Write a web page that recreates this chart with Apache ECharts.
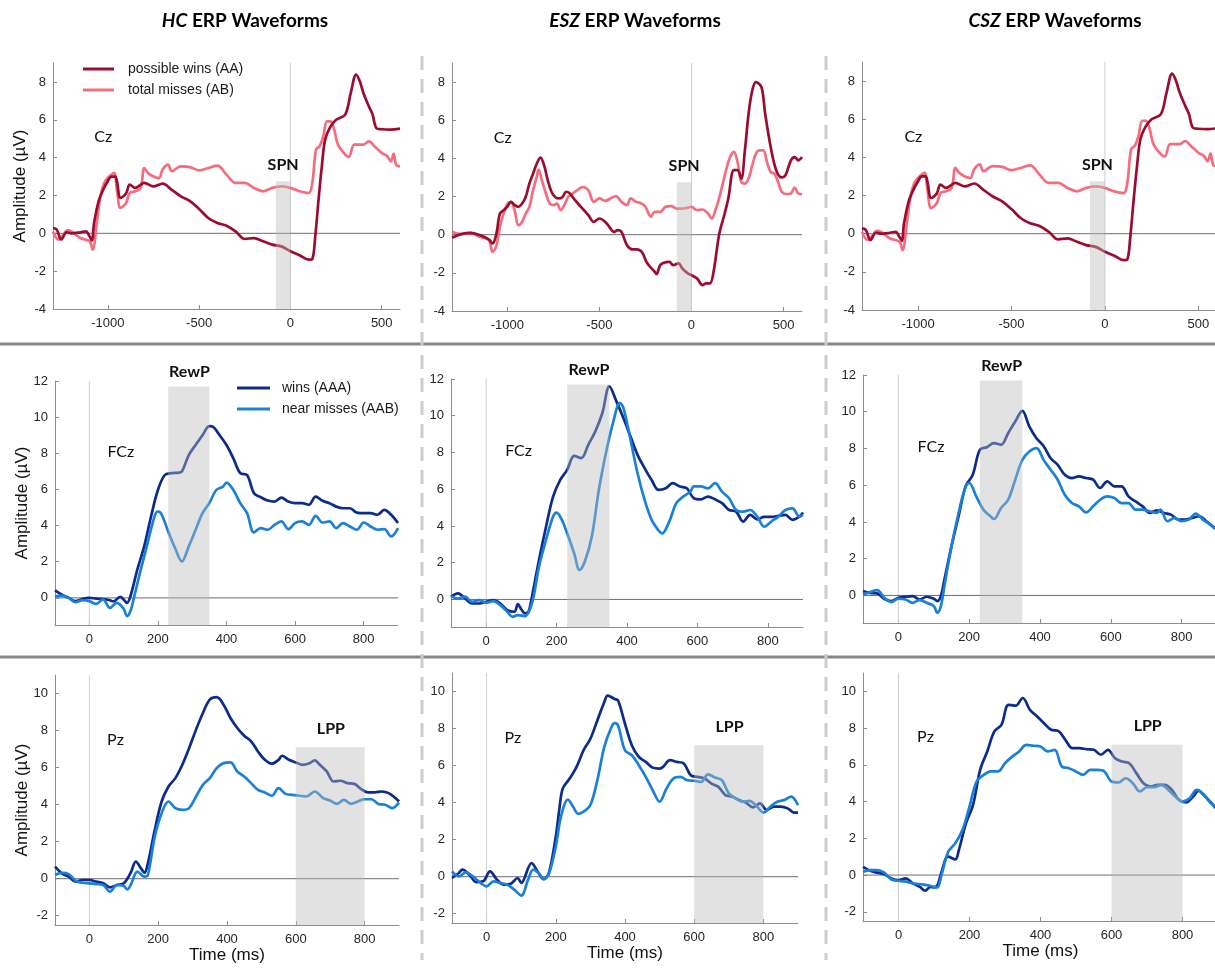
<!DOCTYPE html>
<html><head><meta charset="utf-8">
<script src="https://cdn.jsdelivr.net/npm/echarts@6/dist/echarts.min.js"></script>
<style>html,body{margin:0;padding:0;background:#fff}#c{width:1215px;height:968px}</style>
</head><body><div id="c"></div>
<script>
// ---------------- DATA ----------------
const colTitles = ['HC', 'ESZ', 'CSZ'];
const czNames = ['possible wins (AA)', 'total misses (AB)'];
const fbNames = ['wins (AAA)', 'near misses (AAB)'];
const czTicksX = [-1000, -500, 0, 500];
const czTicksY = [-4, -2, 0, 2, 4, 6, 8];
const lateTicksX = [0, 200, 400, 600, 800];
const fczTicksY = [0, 2, 4, 6, 8, 10, 12];
const pzTicksY = [-2, 0, 2, 4, 6, 8, 10];
const spnWindow = [-80, 0, -4, 2.75];
const rewpWindow = [230, 350, -1.5, 11.7];
const lppWindow = [600, 800, -2.5, 7.1];

const hcCzWins = [[-1300,0.28],[-1280,0.2],[-1255,-0.33],[-1225,0.05],[-1200,0],[-1150,0.05],[-1120,0.1],[-1100,-0.16],[-1087,-0.37],[-1075,0.55],[-1050,1.7],[-1025,2.3],[-1000,2.75],[-980,3.0],[-960,3.0],[-950,2.75],[-930,1.87],[-900,2.1],[-880,2.57],[-850,2.4],[-800,2.66],[-750,2.48],[-700,2.63],[-650,2.3],[-600,1.95],[-550,1.7],[-500,1.29],[-450,0.81],[-400,0.55],[-350,0.4],[-300,0.1],[-250,-0.3],[-200,-0.25],[-150,-0.42],[-100,-0.6],[-50,-0.69],[0,-0.95],[50,-1.16],[100,-1.39],[120,-1.35],[136,-0.16],[154,1.78],[172,3.54],[190,4.95],[217,5.6],[250,6.0],[300,6.27],[330,7.4],[360,8.39],[380,8.03],[400,7.4],[430,6.7],[450,6.27],[470,5.57],[500,5.5],[550,5.48],[600,5.53]];
const hcCzMiss = [[-1300,0.1],[-1270,-0.33],[-1250,-0.16],[-1220,0.15],[-1200,0.1],[-1150,-0.25],[-1100,-0.42],[-1083,-0.86],[-1060,0.55],[-1040,1.96],[-1020,2.66],[-1000,2.93],[-980,3.1],[-965,3.2],[-950,2.3],[-930,1.34],[-900,1.6],[-880,2.13],[-850,2.22],[-820,2.4],[-800,3.45],[-780,3.19],[-750,3.0],[-720,2.92],[-700,3.37],[-670,3.63],[-650,3.28],[-600,3.54],[-550,3.5],[-500,3.33],[-450,3.45],[-400,3.58],[-350,3.1],[-300,2.66],[-250,2.66],[-200,2.4],[-150,2.22],[-100,2.4],[-50,2.48],[0,2.4],[50,2.22],[100,2.13],[120,2.66],[140,4.42],[160,4.6],[180,5.13],[200,5.92],[220,5.92],[240,5.48],[260,4.69],[300,4.16],[320,4.04],[350,4.69],[400,4.69],[430,4.86],[460,4.6],[500,4.25],[530,4.07],[550,3.8],[565,4.2],[580,3.6],[600,3.54]];
const eszCzWins = [[-1300,-0.16],[-1250,0.03],[-1200,0.1],[-1150,-0.02],[-1100,-0.25],[-1080,-0.46],[-1060,0],[-1040,1.1],[-1020,1.28],[-1000,1.46],[-980,1.72],[-960,1.55],[-940,1.46],[-920,1.63],[-900,1.98],[-880,2.68],[-860,3.2],[-840,3.72],[-820,4.04],[-800,3.64],[-780,2.85],[-760,2.25],[-740,1.98],[-720,1.9],[-700,1.98],[-680,2.25],[-660,2.16],[-640,1.9],[-600,1.46],[-560,1.02],[-530,0.67],[-500,0.85],[-460,0.59],[-420,0.15],[-400,0.24],[-380,0.15],[-350,-0.55],[-320,-0.77],[-300,-0.77],[-270,-0.9],[-240,-1.5],[-200,-1.94],[-190,-2.07],[-170,-1.6],[-150,-1.47],[-120,-1.42],[-100,-1.6],[-70,-1.5],[-50,-1.77],[-20,-2.03],[0,-2.12],[30,-2.29],[60,-2.64],[80,-2.55],[100,-2.55],[120,-1.94],[150,0],[180,1.1],[200,1.9],[230,3.38],[250,3.38],[270,2.94],[290,4.42],[310,6.34],[330,7.56],[350,8.0],[380,7.74],[400,6.34],[430,4.6],[460,3.38],[490,3.0],[510,3.11],[540,3.9],[560,4.07],[580,3.9],[600,4.07]];
const eszCzMiss = [[-1300,0.15],[-1250,0.03],[-1200,0.1],[-1150,-0.11],[-1100,-0.28],[-1080,-0.9],[-1060,-0.63],[-1040,0.41],[-1020,1.1],[-1000,1.6],[-980,1.72],[-960,1.28],[-940,0.5],[-920,0.67],[-900,1.1],[-880,1.46],[-860,2.33],[-840,3.03],[-830,3.41],[-810,2.77],[-790,2.16],[-770,1.63],[-750,1.55],[-730,1.63],[-710,1.28],[-690,1.55],[-670,1.98],[-650,2.12],[-620,2.33],[-590,2.5],[-560,2.33],[-530,1.72],[-500,1.9],[-470,1.77],[-440,1.9],[-410,2.02],[-380,1.72],[-350,1.55],[-330,1.9],[-300,1.72],[-270,1.63],[-250,1.46],[-220,0.94],[-200,1.2],[-170,1.2],[-140,1.46],[-110,1.5],[-80,1.37],[-50,1.37],[-20,1.42],[0,1.46],[30,1.28],[60,1.32],[90,1.1],[110,0.85],[130,1.28],[150,1.9],[170,2.68],[190,3.46],[210,4.07],[230,4.34],[250,3.81],[270,2.77],[290,2.68],[310,2.94],[330,3.64],[350,4.25],[370,4.42],[390,4.42],[410,3.81],[430,3.29],[450,3.2],[470,2.77],[490,2.25],[520,2.12],[540,2.16],[560,2.47],[580,2.16],[600,2.12]];
const cszCzWins = [[-1300,0.28],[-1280,0.2],[-1255,-0.33],[-1225,0.05],[-1200,0],[-1150,0.05],[-1120,0.1],[-1100,-0.16],[-1087,-0.37],[-1075,0.55],[-1050,1.7],[-1025,2.3],[-1000,2.75],[-980,3.0],[-960,3.0],[-950,2.75],[-930,1.87],[-900,2.1],[-880,2.57],[-850,2.4],[-800,2.66],[-750,2.48],[-700,2.63],[-650,2.3],[-600,1.95],[-550,1.7],[-500,1.29],[-450,0.81],[-400,0.55],[-350,0.4],[-300,0.1],[-250,-0.3],[-200,-0.25],[-150,-0.42],[-100,-0.6],[-50,-0.69],[0,-0.95],[50,-1.16],[100,-1.39],[120,-1.35],[136,-0.16],[154,1.78],[172,3.54],[190,4.95],[217,5.6],[250,6.0],[300,6.27],[330,7.4],[360,8.39],[380,8.03],[400,7.4],[430,6.7],[450,6.27],[470,5.57],[500,5.5],[550,5.48],[600,5.53]];
const cszCzMiss = [[-1300,0.1],[-1270,-0.33],[-1250,-0.16],[-1220,0.15],[-1200,0.1],[-1150,-0.25],[-1100,-0.42],[-1083,-0.86],[-1060,0.55],[-1040,1.96],[-1020,2.66],[-1000,2.93],[-980,3.1],[-965,3.2],[-950,2.3],[-930,1.34],[-900,1.6],[-880,2.13],[-850,2.22],[-820,2.4],[-800,3.45],[-780,3.19],[-750,3.0],[-720,2.92],[-700,3.37],[-670,3.63],[-650,3.28],[-600,3.54],[-550,3.5],[-500,3.33],[-450,3.45],[-400,3.58],[-350,3.1],[-300,2.66],[-250,2.66],[-200,2.4],[-150,2.22],[-100,2.4],[-50,2.48],[0,2.4],[50,2.22],[100,2.13],[120,2.66],[140,4.42],[160,4.6],[180,5.13],[200,5.92],[220,5.92],[240,5.48],[260,4.69],[300,4.16],[320,4.04],[350,4.69],[400,4.69],[430,4.86],[460,4.6],[500,4.25],[530,4.07],[550,3.8],[565,4.2],[580,3.6],[600,3.54]];

const hcFCzWins = [[-100,0.42],[-80,0.18],[-60,0],[-40,-0.18],[-20,-0.06],[0,0],[20,-0.04],[40,-0.06],[60,-0.13],[70,-0.2],[90,0.06],[100,-0.09],[110,-0.28],[120,0.09],[140,1.56],[160,2.85],[180,4.5],[200,5.97],[220,6.8],[240,6.9],[260,6.93],[270,6.99],[290,7.9],[310,8.46],[330,9.0],[350,9.5],[360,9.47],[380,9.0],[400,8.46],[420,7.72],[440,6.9],[460,6.8],[480,5.79],[500,5.57],[520,5.39],[540,5.33],[560,5.55],[580,5.33],[600,5.24],[620,5.24],[640,5.15],[660,5.6],[680,5.37],[700,5.24],[720,5.05],[740,4.96],[760,4.96],[780,4.72],[800,4.69],[820,4.69],[840,4.6],[860,4.87],[880,4.6],[900,4.14]];
const hcFCzNear = [[-100,0.09],[-80,0.13],[-60,0],[-40,-0.24],[-20,-0.13],[0,-0.18],[20,-0.33],[40,-0.09],[60,-0.55],[80,-0.28],[100,-0.6],[110,-1.01],[120,-0.73],[130,0],[150,1.56],[170,3.03],[190,4.5],[200,4.78],[210,4.65],[230,3.68],[250,2.76],[270,2.02],[290,2.85],[310,3.77],[330,4.69],[350,5.24],[370,5.97],[390,6.16],[400,6.38],[420,5.97],[440,5.24],[460,4.69],[480,3.62],[500,3.86],[520,3.77],[540,4.04],[560,4.23],[580,3.8],[600,4.14],[620,4.23],[640,4.04],[660,4.54],[680,4.17],[700,4.23],[720,3.86],[740,4.14],[760,3.95],[780,3.77],[800,4.17],[820,3.95],[840,3.77],[860,3.8],[880,3.4],[900,3.86]];
const eszFCzWins = [[-100,0.15],[-80,0.33],[-60,0.05],[-40,-0.22],[-20,-0.22],[0,-0.13],[20,-0.04],[40,-0.22],[60,-0.58],[80,-0.67],[90,-0.25],[100,-0.55],[110,-0.76],[120,-0.67],[130,0.15],[150,2.15],[170,3.96],[190,5.6],[210,6.5],[230,7.05],[250,7.82],[270,7.69],[290,8.42],[310,9.15],[330,10.15],[350,11.6],[370,10.78],[390,9.87],[410,8.87],[430,7.87],[450,7.15],[470,6.5],[490,5.96],[510,6.05],[530,6.33],[550,6.15],[570,6.05],[590,5.51],[610,5.45],[630,5.6],[650,5.45],[670,5.24],[690,4.87],[710,4.78],[730,4.24],[750,4.6],[770,4.36],[790,4.5],[810,4.5],[830,4.55],[850,4.6],[870,4.33],[890,4.51],[900,4.73]];
const eszFCzNear = [[-100,0.18],[-80,0.05],[-60,0.15],[-40,-0.13],[-20,-0.04],[0,-0.18],[20,-0.09],[40,-0.31],[60,-0.67],[75,-0.95],[90,-0.85],[110,-0.91],[130,-0.22],[150,1.78],[170,3.24],[190,4.51],[200,4.73],[215,4.33],[230,3.6],[250,2.51],[265,1.6],[280,2.05],[300,3.42],[320,5.96],[340,7.96],[360,9.6],[380,10.69],[390,10.42],[410,8.69],[430,6.87],[450,5.42],[470,4.33],[490,3.75],[500,3.6],[520,4.24],[540,5.24],[560,5.6],[580,5.87],[590,6.15],[610,6.15],[630,6.05],[650,6.33],[670,5.87],[690,5.51],[710,4.87],[730,4.78],[750,4.87],[770,4.51],[790,3.96],[810,4.24],[830,4.51],[850,4.87],[870,4.96],[890,4.51],[900,4.6]];
const cszFCzWins = [[-100,0.24],[-80,0.14],[-60,0.11],[-40,-0.18],[-20,-0.31],[0,-0.13],[20,-0.07],[40,-0.04],[60,-0.22],[80,-0.07],[100,-0.18],[110,-0.31],[120,-0.04],[130,0.87],[150,2.68],[170,4.31],[190,5.94],[210,6.57],[230,7.93],[250,8.07],[270,8.29],[290,8.2],[310,8.83],[330,9.47],[350,10.05],[370,9.19],[390,8.56],[410,8.14],[430,7.47],[450,7.11],[470,6.57],[490,6.39],[510,6.48],[530,6.39],[550,6.3],[570,5.85],[590,6.21],[610,5.94],[630,5.94],[650,5.39],[670,5.12],[690,4.85],[710,4.49],[730,4.63],[750,4.49],[770,4.4],[790,4.13],[810,4.13],[830,4.22],[850,4.31],[870,4.04],[894,3.67]];
const cszFCzNear = [[-100,0.05],[-80,0.18],[-60,0.29],[-40,-0.13],[-20,-0.36],[0,-0.18],[20,-0.22],[40,-0.4],[60,-0.25],[80,-0.4],[100,-0.58],[110,-0.94],[120,-0.58],[130,0.51],[150,2.68],[170,4.49],[190,5.94],[200,6.12],[220,5.39],[240,4.67],[260,4.31],[270,4.16],[290,4.76],[310,5.21],[330,6.3],[350,7.38],[370,7.84],[390,8.02],[410,7.38],[430,6.84],[450,6.3],[470,5.48],[490,5.03],[510,4.85],[530,4.52],[550,4.85],[570,5.21],[590,5.39],[610,5.3],[630,5.03],[650,5.03],[670,4.67],[690,4.67],[710,4.58],[730,4.49],[740,4.67],[760,4.04],[780,4.22],[800,4.04],[820,4.13],[840,4.45],[860,4.13],[880,3.86],[894,3.62]];

const hcPzWins = [[-100,0.65],[-80,0.29],[-60,0.11],[-40,-0.16],[-20,-0.07],[0,-0.07],[20,-0.16],[40,-0.25],[60,-0.47],[80,-0.34],[100,-0.25],[120,0.32],[135,0.92],[150,0.56],[160,0.32],[170,0.83],[190,2.63],[210,4.17],[230,4.98],[250,5.43],[270,6.15],[290,7.06],[310,8.05],[330,8.95],[350,9.67],[370,9.8],[390,9.4],[410,8.68],[430,8.14],[450,7.72],[470,7.42],[490,6.87],[510,6.42],[530,6.21],[550,6.42],[560,6.64],[580,6.42],[600,6.28],[620,6.15],[640,6.24],[655,6.39],[670,6.15],[690,5.79],[710,5.25],[730,5.29],[750,5.16],[770,5.12],[790,4.84],[810,4.66],[830,4.66],[850,4.71],[870,4.62],[890,4.35],[900,4.17]];
const hcPzNear = [[-100,0.2],[-80,0.32],[-60,0.25],[-40,-0.11],[-20,-0.22],[0,-0.25],[20,-0.29],[40,-0.34],[60,-0.7],[80,-0.34],[100,-0.4],[110,-0.58],[120,-0.34],[140,0.38],[160,0.11],[170,0.2],[190,2.27],[210,3.54],[230,4.17],[250,3.81],[270,3.72],[290,3.81],[310,4.44],[330,5.07],[350,5.43],[370,5.97],[390,6.24],[410,6.28],[430,5.79],[450,5.52],[470,5.16],[490,4.8],[510,4.66],[530,4.48],[550,4.89],[570,4.58],[590,4.53],[610,4.48],[630,4.44],[655,4.71],[680,4.35],[700,4.22],[720,4.04],[740,4.26],[760,4.04],[780,4.17],[800,4.29],[820,4.29],[840,4.04],[860,3.99],[880,3.81],[900,4.11]];
const eszPzWins = [[-100,-0.07],[-80,0.2],[-70,0.38],[-50,0.11],[-30,-0.29],[-10,-0.25],[10,0.29],[30,-0.16],[50,-0.43],[70,-0.38],[90,-0.07],[100,-0.34],[130,0.73],[150,0.2],[165,-0.13],[180,0.2],[200,2.17],[210,3.6],[220,4.76],[240,5.3],[260,5.93],[280,6.82],[300,7.45],[320,8.44],[340,9.42],[350,9.78],[370,9.6],[380,9.51],[400,8.26],[420,7.09],[440,6.47],[460,6.2],[480,5.89],[500,5.84],[510,5.93],[530,6.29],[550,6.2],[570,6.11],[590,5.48],[610,5.39],[630,5.3],[650,5.03],[670,4.85],[690,4.41],[710,4.32],[730,4.14],[750,3.99],[770,3.74],[790,3.96],[810,3.6],[830,3.78],[850,3.78],[870,3.69],[890,3.46],[900,3.46]];
const eszPzNear = [[-100,0.29],[-80,0.02],[-60,0.23],[-40,0.02],[-20,-0.3],[0,-0.52],[20,-0.25],[40,-0.34],[60,-0.43],[80,-0.7],[100,-1.02],[120,-0.16],[135,0.38],[150,0.2],[165,-0.13],[180,0.16],[200,1.63],[215,3.24],[235,4.17],[250,3.78],[265,3.39],[280,3.51],[300,3.87],[320,5.21],[340,7.0],[360,8.04],[370,8.29],[380,8.17],[400,6.82],[420,6.56],[440,6.02],[460,5.39],[480,4.67],[500,4.05],[520,4.76],[540,5.3],[560,5.39],[580,5.21],[600,5.18],[620,5.12],[640,5.53],[660,5.36],[680,5.21],[700,4.5],[720,4.23],[740,4.05],[760,4.1],[780,3.82],[800,3.46],[820,3.78],[840,4.05],[860,4.14],[880,4.32],[900,3.87]];
const cszPzWins = [[-100,0.45],[-80,0.24],[-60,0.13],[-40,0.05],[-20,-0.18],[0,-0.27],[20,-0.18],[40,-0.45],[60,-0.64],[75,-0.85],[90,-0.64],[100,-0.67],[110,-0.55],[120,0.09],[140,1.0],[160,0.85],[170,1.36],[190,2.82],[210,3.82],[230,5.73],[250,6.73],[270,7.82],[290,8.18],[310,9.27],[330,9.22],[350,9.64],[370,9.0],[390,8.64],[410,8.27],[430,7.91],[450,7.85],[470,7.36],[490,6.91],[510,6.91],[530,6.85],[550,6.82],[570,6.55],[590,6.82],[610,6.36],[630,6.18],[650,6.09],[670,5.55],[690,5.0],[710,4.82],[730,4.91],[750,4.91],[770,4.64],[790,4.09],[810,3.95],[830,4.27],[845,4.6],[860,4.36],[880,3.95],[894,3.64]];
const cszPzNear = [[-100,0.18],[-80,0.27],[-60,0.27],[-40,0.13],[-20,-0.24],[0,-0.31],[20,-0.36],[40,-0.45],[60,-0.49],[80,-0.55],[100,-0.64],[110,-0.67],[120,-0.09],[140,1.27],[160,1.73],[180,2.45],[200,3.73],[220,5.09],[240,5.45],[260,5.64],[280,5.64],[300,6.09],[320,6.45],[340,6.73],[360,7.09],[380,7.04],[400,7.0],[420,6.73],[440,6.82],[460,5.91],[480,5.82],[500,5.64],[520,5.45],[540,5.73],[560,5.73],[580,5.64],[600,5.09],[620,5.04],[640,5.27],[660,5.0],[680,4.55],[700,4.78],[720,4.78],[740,4.91],[760,4.64],[780,4.27],[800,4.0],[820,4.18],[840,4.64],[860,4.36],[880,3.91],[894,3.73]];

// ---------------- LAYOUT / STYLE ----------------
const FONT = 'Liberation Sans, Arial, sans-serif';
const LFONT = 'Lato, Open Sans, sans-serif';
const gridRects = [
  [53, 63, 347, 246], [452, 63, 350, 248], [862, 62, 355, 248],
  [55, 381, 343, 244], [451, 379, 352, 248], [863, 375, 354, 248],
  [55, 675, 344, 250], [452, 673, 346, 250], [863, 673, 355, 248]
];
const rows = [
  {xMin: -1300, xMax: 600, yMin: -4, yMax: 9, xt: czTicksX, yt: czTicksY, names: czNames,
   colors: ['#9b0c30', '#f56d7d'], win: spnWindow, comp: 'SPN', chan: 'Cz', chanAt: [-1025, 5.1], compAt: [-40, 3.6]},
  {xMin: -100, xMax: 900, yMin: -1.5, yMax: 12, xt: lateTicksX, yt: fczTicksY, names: fbNames,
   colors: ['#0b2c8d', '#1b80d8'], win: rewpWindow, comp: 'RewP', chan: 'FCz', chanAt: [92, 8.1], compAt: [292, 12.5]},
  {xMin: -100, xMax: 900, yMin: -2.5, yMax: 11, xt: lateTicksX, yt: pzTicksY, names: fbNames,
   colors: ['#0b2c8d', '#1b80d8'], win: lppWindow, comp: 'LPP', chan: 'Pz', chanAt: [76, 7.5], compAt: [702, 8.1]}
];
const panelData = [
  [hcCzWins, hcCzMiss], [eszCzWins, eszCzMiss], [cszCzWins, cszCzMiss],
  [hcFCzWins, hcFCzNear], [eszFCzWins, eszFCzNear], [cszFCzWins, cszFCzNear],
  [hcPzWins, hcPzNear], [eszPzWins, eszPzNear], [cszPzWins, cszPzNear]
];

const plainNum = v => String(v);
const grid = [], xAxis = [], yAxis = [], series = [];
for (let i = 0; i < 9; i++) {
  const r = Math.floor(i / 3), c = i % 3, row = rows[r], g = gridRects[i];
  grid.push({left: g[0], top: g[1], width: g[2], height: g[3], containLabel: false, outerBoundsMode: 'none'});
  xAxis.push({
    gridIndex: i, type: 'value', min: row.xMin, max: row.xMax,
    axisLine: {show: true, onZero: false, lineStyle: {color: '#8e8e8e', width: 1}},
    axisTick: {show: true, inside: true, length: 4, customValues: row.xt, lineStyle: {color: '#8e8e8e'}},
    axisLabel: {customValues: row.xt, formatter: plainNum, color: '#262626', fontSize: 13, fontFamily: FONT, margin: 8},
    splitLine: {show: false},
    name: r === 2 ? 'Time (ms)' : '', nameLocation: 'middle', nameGap: 22, nameMoveOverlap: false,
    nameTextStyle: {fontSize: 17, color: '#111', fontFamily: FONT}
  });
  yAxis.push({
    gridIndex: i, type: 'value', min: row.yMin, max: row.yMax,
    axisLine: {show: true, onZero: false, lineStyle: {color: '#8e8e8e', width: 1}},
    axisTick: {show: true, inside: true, length: 4, customValues: row.yt, lineStyle: {color: '#8e8e8e'}},
    axisLabel: {customValues: row.yt, formatter: plainNum, color: '#262626', fontSize: 13, fontFamily: FONT, margin: 7},
    splitLine: {show: false},
    name: c === 0 ? 'Amplitude (\u00b5V)' : '', nameLocation: 'middle', nameGap: 24, nameRotate: 90, nameMoveOverlap: false,
    nameTextStyle: {fontSize: 17, color: '#111', fontFamily: FONT}
  });
  // zero reference lines (under the waveforms)
  series.push({
    type: 'custom', xAxisIndex: i, yAxisIndex: i, z: 1, silent: true, data: [[0, 0]],
    renderItem: (params, api) => {
      const cs = params.coordSys, p = api.coord([0, 0]);
      return {type: 'group', children: [
        {type: 'line', shape: {x1: p[0], y1: cs.y, x2: p[0], y2: cs.y + cs.height}, style: {stroke: '#cfcfcf', lineWidth: 1}},
        {type: 'line', shape: {x1: cs.x, y1: p[1], x2: cs.x + cs.width, y2: p[1]}, style: {stroke: '#6e6e6e', lineWidth: 1}}
      ]};
    }
  });
  const order = r === 0 ? [1, 0] : [0, 1];
  order.forEach(k => {
    series.push({
      type: 'line', name: row.names[k], xAxisIndex: i, yAxisIndex: i, z: 2,
      data: panelData[i][k], showSymbol: false, symbol: 'none', smooth: 0.35,
      color: row.colors[k], lineStyle: {width: 2.7, color: row.colors[k]}, clip: true
    });
  });
  // translucent window shading and labels, drawn over the waveforms
  series.push({
    type: 'custom', xAxisIndex: i, yAxisIndex: i, z: 5, silent: true, data: [[row.win[0], row.win[2]]],
    renderItem: (params, api) => {
      const a = api.coord([row.win[0], row.win[3]]);
      const b = api.coord([row.win[1], row.win[2]]);
      const ch = api.coord(row.chanAt), cp = api.coord(row.compAt);
      return {type: 'group', children: [
        {type: 'rect', shape: {x: a[0], y: a[1], width: b[0] - a[0], height: b[1] - a[1]}, style: {fill: 'rgba(186,186,186,0.42)'}},
        {type: 'text', x: ch[0], y: ch[1], style: {text: row.chan, fontSize: 16, fontFamily: LFONT, fill: '#111', align: 'center', verticalAlign: 'middle'}},
        {type: 'text', x: cp[0], y: cp[1], style: {text: row.comp, fontSize: 16, fontWeight: 'bold', fontFamily: LFONT, fill: '#111', align: 'center', verticalAlign: 'middle'}}
      ]};
    }
  });
}

const titleX = [245, 635, 1055];
const graphic = [];
colTitles.forEach((t, k) => {
  graphic.push({type: 'text', x: titleX[k], y: 21, silent: true, style: {
    text: '{i|' + t + '} ERP Waveforms', align: 'center', verticalAlign: 'middle',
    fontSize: 19, fontWeight: 'bold', fontFamily: LFONT, fill: '#000',
    rich: {i: {fontStyle: 'italic', fontWeight: 'bold', fontSize: 19, fontFamily: LFONT, fill: '#000'}}
  }});
});
[344, 657].forEach(y => graphic.push({type: 'line', silent: true, shape: {x1: 0, y1: y, x2: 1215, y2: y}, style: {stroke: '#878787', lineWidth: 3}}));
[422, 826].forEach(x => graphic.push({type: 'line', silent: true, shape: {x1: x, y1: 56, x2: x, y2: 960}, style: {stroke: '#cdcdcd', lineWidth: 3, lineDash: [14, 9]}}));

const legendBase = {orient: 'vertical', icon: 'rect', itemHeight: 3, itemGap: 7, selectedMode: false,
  textStyle: {fontSize: 14, color: '#1a1a1a', fontFamily: FONT, padding: [0, 0, 0, 9]}};
const option = {
  animation: false, backgroundColor: '#ffffff',
  grid, xAxis, yAxis, series, graphic,
  legend: [
    Object.assign({}, legendBase, {data: czNames, left: 78, top: 57, itemWidth: 31}),
    Object.assign({}, legendBase, {data: fbNames, left: 232, top: 376, itemWidth: 33, textStyle: Object.assign({}, legendBase.textStyle, {padding: [0, 0, 0, 7]})})
  ]
};
const chart = echarts.init(document.getElementById('c'), null, {renderer: 'canvas'});
chart.setOption(option);
</script></body></html>
